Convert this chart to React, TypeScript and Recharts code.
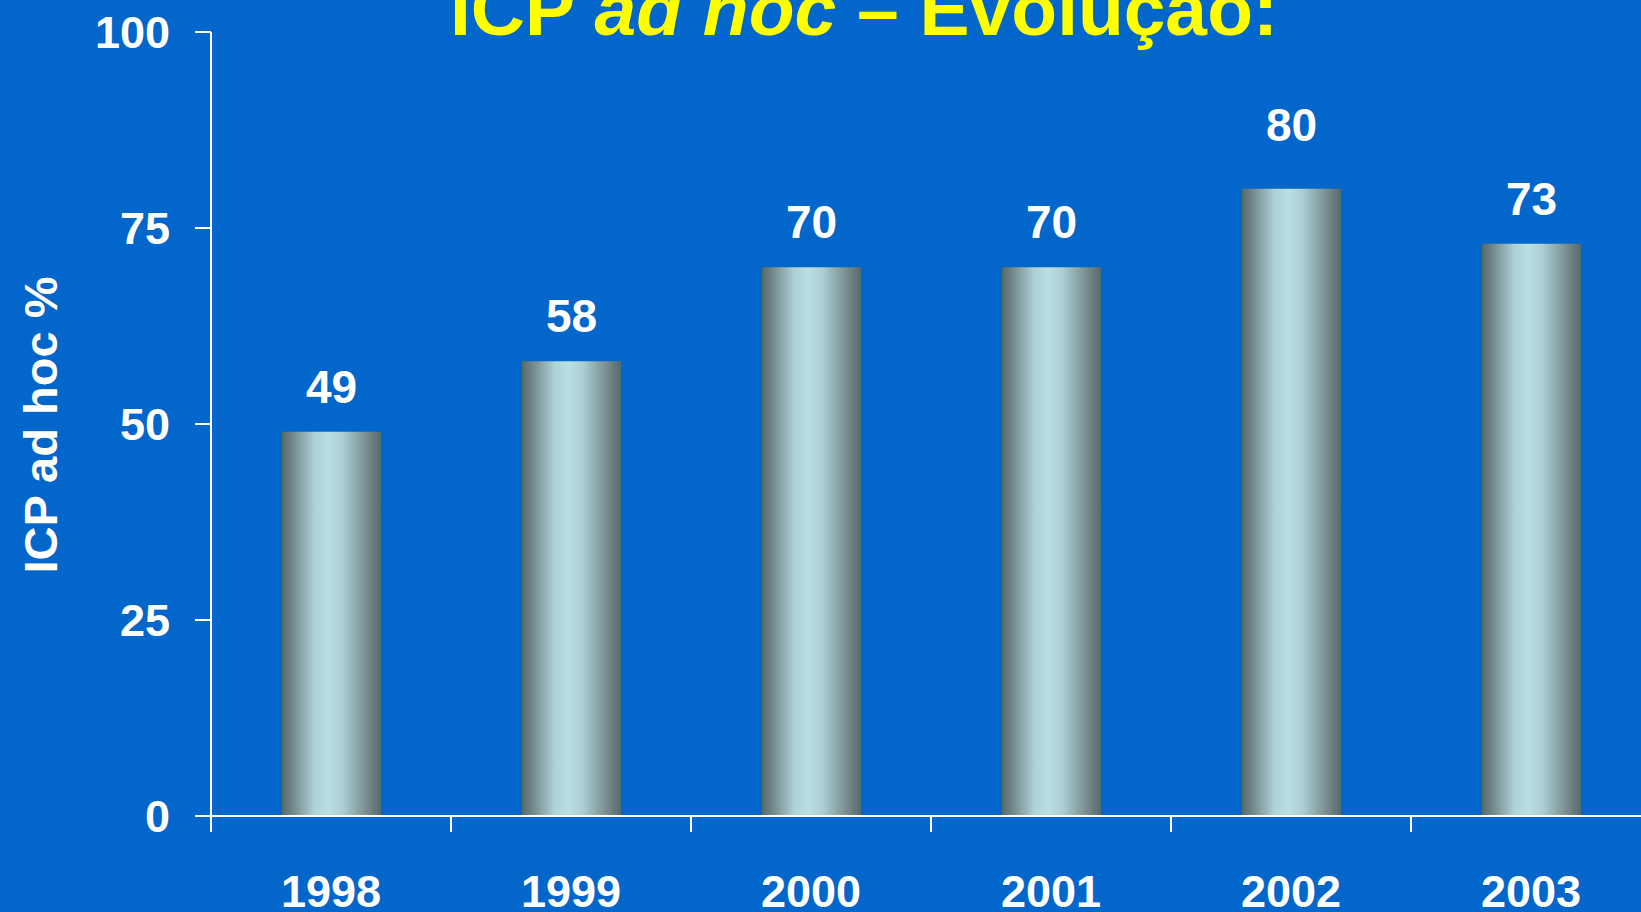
import { BarChart, Bar, XAxis, YAxis, LabelList } from 'recharts'

const years = ['1998', '1999', '2000', '2001', '2002', '2003']
const adHocPct = [49, 58, 70, 70, 80, 73]
const yTicks = [0, 25, 50, 75, 100]

const data = years.map((year, i) => ({ year, value: adHocPct[i] }))

const BG = '#0366cb'
const FONT = '"Liberation Sans", Arial, Helvetica, sans-serif'
const CHART_W = 1660
const CHART_H = 912
const MARGIN = { top: 32, right: 9, left: 0, bottom: 0 }
const Y_AXIS_W = 211
const HALF_BAND = (CHART_W - MARGIN.left - MARGIN.right - Y_AXIS_W) / years.length / 2

function YearTick(props: any) {
  const { x, y, payload } = props
  return (
    <g>
      <line x1={x - HALF_BAND} y1={y} x2={x - HALF_BAND} y2={y + 16} stroke="#fff" strokeWidth={2} />
      <line x1={x + HALF_BAND} y1={y} x2={x + HALF_BAND} y2={y + 16} stroke="#fff" strokeWidth={2} />
      <text x={x} y={y + 91} textAnchor="middle" fill="#fff" fontSize={45} fontWeight="bold" fontFamily={FONT}>
        {payload.value}
      </text>
    </g>
  )
}

function ValueLabel(props: any) {
  const { x, y, width, value } = props
  // the 2002 label sits higher above its bar in the original slide
  const gap = value >= 80 ? 48 : 29
  return (
    <text x={x + width / 2} y={y - gap} textAnchor="middle" fill="#fff" fontSize={46} fontWeight="bold" fontFamily={FONT}>
      {value}
    </text>
  )
}

function AxisTitle() {
  return (
    <text
      x={57}
      y={425}
      transform="rotate(-90 57 425)"
      textAnchor="middle"
      fill="#fff"
      fontSize={47}
      fontWeight="bold"
      fontFamily={FONT}
    >
      ICP ad hoc %
    </text>
  )
}

export default function App() {
  return (
    <div
      style={{
        position: 'fixed',
        left: 0,
        top: 0,
        width: 1641,
        height: 912,
        overflow: 'hidden',
        background: BG,
        fontFamily: FONT,
      }}
    >
      <div
        style={{
          position: 'absolute',
          left: 864,
          top: -28,
          transform: 'translateX(-50%)',
          whiteSpace: 'nowrap',
          color: '#ffff00',
          fontSize: 75,
          lineHeight: '75px',
          fontWeight: 'bold',
        }}
      >
        ICP <i>ad hoc</i> – Evolução:
      </div>
      <BarChart width={CHART_W} height={CHART_H} data={data} margin={MARGIN} barSize={99}>
        <defs>
          <linearGradient id="barShade" x1="0" y1="0" x2="1" y2="0">
            <stop offset="0%" stopColor="#56686a" />
            <stop offset="15%" stopColor="#7f9699" />
            <stop offset="33%" stopColor="#add3d6" />
            <stop offset="47%" stopColor="#bbe0e3" />
            <stop offset="62%" stopColor="#a9cdd0" />
            <stop offset="85%" stopColor="#7a8f91" />
            <stop offset="100%" stopColor="#56696b" />
          </linearGradient>
        </defs>
        <XAxis
          dataKey="year"
          height={96}
          tickSize={0}
          tickMargin={0}
          tickLine={false}
          axisLine={{ stroke: '#fff', strokeWidth: 2 }}
          tick={<YearTick />}
          interval={0}
        />
        <YAxis
          width={Y_AXIS_W}
          domain={[0, 100]}
          ticks={yTicks}
          tickSize={16}
          tickMargin={25}
          axisLine={{ stroke: '#fff', strokeWidth: 2 }}
          tickLine={{ stroke: '#fff', strokeWidth: 2 }}
          tick={{ fill: '#fff', fontSize: 45, fontWeight: 'bold', fontFamily: FONT }}
          label={<AxisTitle />}
        />
        <Bar dataKey="value" fill="url(#barShade)" isAnimationActive={false}>
          <LabelList dataKey="value" content={<ValueLabel />} />
        </Bar>
      </BarChart>
    </div>
  )
}
